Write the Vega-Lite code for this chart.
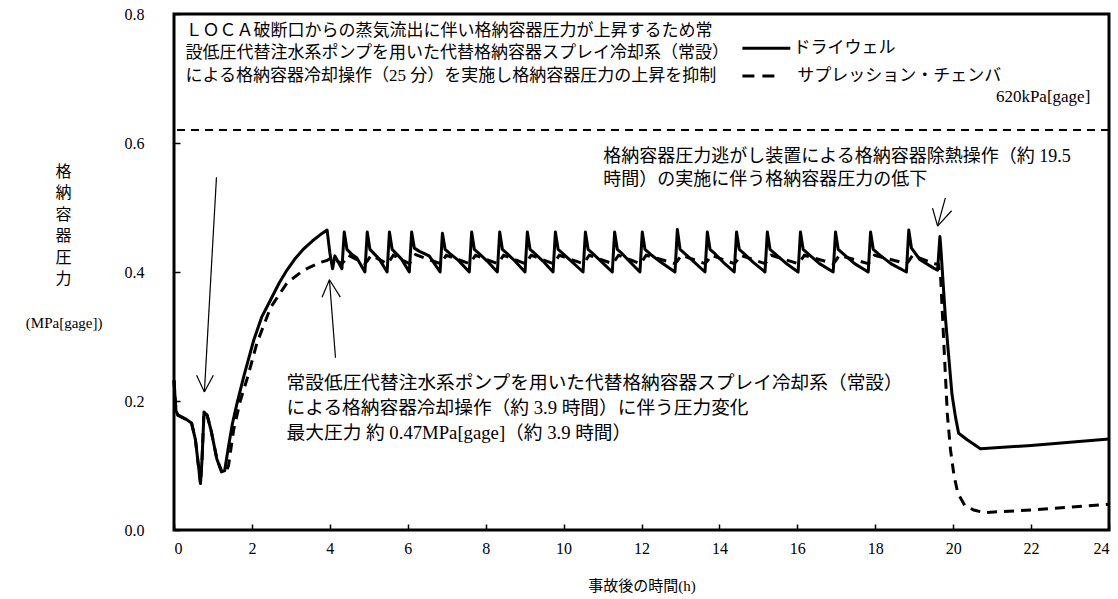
{
  "$schema": "https://vega.github.io/schema/vega-lite/v6.json",
  "width": 935,
  "height": 516,
  "autosize": {"type": "none"},
  "padding": {"left": 174, "top": 14, "right": 9, "bottom": 69},
  "background": "white",
  "config": {
    "view": {"stroke": "black", "strokeWidth": 3},
    "font": "Liberation Serif, Noto Sans CJK JP",
    "axis": {"domain": false, "grid": false, "tickColor": "black", "tickWidth": 1.5, "labelColor": "black", "titleColor": "black", "labelFont": "Liberation Serif", "labelFontSize": 16, "titleFont": "Liberation Serif, Noto Sans CJK JP", "titleFontWeight": "normal", "titleFontSize": 15}
  },
  "datasets": {
    "dw": [
      {"t":0,"p":0.232},{"t":0.05,"p":0.185},{"t":0.1,"p":0.178},{"t":0.3,"p":0.172},{"t":0.45,"p":0.166},{"t":0.55,"p":0.14},{"t":0.68,"p":0.072},{"t":0.72,"p":0.11},{"t":0.77,"p":0.183},{"t":0.85,"p":0.178},{"t":0.95,"p":0.155},{"t":1.1,"p":0.11},{"t":1.22,"p":0.09},{"t":1.3,"p":0.092},{"t":1.4,"p":0.13},{"t":1.5,"p":0.165},{"t":1.62,"p":0.197},{"t":1.8,"p":0.24},{"t":2.05,"p":0.295},{"t":2.25,"p":0.33},{"t":2.48,"p":0.357},{"t":2.7,"p":0.383},{"t":2.9,"p":0.403},{"t":3.1,"p":0.42},{"t":3.33,"p":0.436},{"t":3.55,"p":0.448},{"t":3.76,"p":0.458},{"t":3.93,"p":0.465},
      {"t":4.0,"p":0.43},{"t":4.07,"p":0.405},{"t":4.13,"p":0.425},{"t":4.22,"p":0.415},{"t":4.31,"p":0.405},{"t":4.37,"p":0.462},
      {"t":4.44,"p":0.435},{"t":4.57,"p":0.427},{"t":4.69,"p":0.422},{"t":4.9,"p":0.4},{"t":4.96,"p":0.462},
      {"t":5.03,"p":0.435},{"t":5.16,"p":0.427},{"t":5.27,"p":0.42},{"t":5.47,"p":0.4},{"t":5.53,"p":0.462},
      {"t":5.6,"p":0.435},{"t":5.73,"p":0.427},{"t":5.84,"p":0.42},{"t":6.04,"p":0.4},{"t":6.1,"p":0.462},
      {"t":6.17,"p":0.437},{"t":6.3,"p":0.432},{"t":6.55,"p":0.425},{"t":6.83,"p":0.4},{"t":6.89,"p":0.46},
      {"t":6.96,"p":0.435},{"t":7.09,"p":0.428},{"t":7.3,"p":0.418},{"t":7.58,"p":0.4},{"t":7.64,"p":0.462},
      {"t":7.71,"p":0.435},{"t":7.84,"p":0.428},{"t":8.04,"p":0.417},{"t":8.3,"p":0.4},{"t":8.36,"p":0.462},
      {"t":8.43,"p":0.435},{"t":8.56,"p":0.428},{"t":8.75,"p":0.417},{"t":9.01,"p":0.4},{"t":9.07,"p":0.462},
      {"t":9.14,"p":0.435},{"t":9.27,"p":0.428},{"t":9.47,"p":0.417},{"t":9.73,"p":0.4},{"t":9.79,"p":0.462},
      {"t":9.86,"p":0.435},{"t":9.99,"p":0.428},{"t":10.21,"p":0.416},{"t":10.5,"p":0.4},{"t":10.56,"p":0.462},
      {"t":10.63,"p":0.435},{"t":10.76,"p":0.428},{"t":10.97,"p":0.416},{"t":11.25,"p":0.4},{"t":11.31,"p":0.462},
      {"t":11.38,"p":0.435},{"t":11.51,"p":0.428},{"t":11.7,"p":0.416},{"t":11.96,"p":0.4},{"t":12.02,"p":0.462},
      {"t":12.09,"p":0.435},{"t":12.22,"p":0.428},{"t":12.5,"p":0.415},{"t":12.86,"p":0.4},{"t":12.92,"p":0.466},
      {"t":12.99,"p":0.435},{"t":13.12,"p":0.428},{"t":13.34,"p":0.416},{"t":13.63,"p":0.4},{"t":13.69,"p":0.462},
      {"t":13.76,"p":0.435},{"t":13.89,"p":0.428},{"t":14.1,"p":0.415},{"t":14.38,"p":0.4},{"t":14.44,"p":0.462},
      {"t":14.51,"p":0.435},{"t":14.64,"p":0.428},{"t":14.87,"p":0.415},{"t":15.17,"p":0.4},{"t":15.23,"p":0.462},
      {"t":15.3,"p":0.435},{"t":15.43,"p":0.428},{"t":15.7,"p":0.414},{"t":16.02,"p":0.4},{"t":16.08,"p":0.462},
      {"t":16.15,"p":0.435},{"t":16.28,"p":0.428},{"t":16.57,"p":0.413},{"t":16.92,"p":0.4},{"t":16.98,"p":0.462},
      {"t":17.05,"p":0.435},{"t":17.18,"p":0.428},{"t":17.47,"p":0.413},{"t":17.82,"p":0.4},{"t":17.88,"p":0.462},
      {"t":17.95,"p":0.435},{"t":18.08,"p":0.428},{"t":18.4,"p":0.413},{"t":18.8,"p":0.4},{"t":18.86,"p":0.465},
      {"t":18.93,"p":0.437},{"t":19.15,"p":0.419},{"t":19.5,"p":0.406},{"t":19.6,"p":0.403},{"t":19.66,"p":0.455},
      {"t":19.68,"p":0.44},{"t":19.8,"p":0.33},{"t":19.87,"p":0.28},{"t":19.97,"p":0.21},{"t":20.06,"p":0.175},{"t":20.14,"p":0.15},{"t":20.36,"p":0.14},{"t":20.7,"p":0.126},{"t":22,"p":0.131},{"t":24,"p":0.141}
    ],
    "sc": [
      {"t":0,"p":0.232},{"t":0.05,"p":0.185},{"t":0.1,"p":0.178},{"t":0.3,"p":0.172},{"t":0.45,"p":0.166},{"t":0.55,"p":0.14},{"t":0.68,"p":0.072},{"t":0.72,"p":0.11},{"t":0.77,"p":0.183},{"t":0.85,"p":0.178},{"t":0.95,"p":0.155},{"t":1.1,"p":0.11},{"t":1.22,"p":0.092},{"t":1.32,"p":0.088},{"t":1.4,"p":0.1},{"t":1.53,"p":0.155},{"t":1.7,"p":0.2},{"t":1.88,"p":0.235},{"t":2.13,"p":0.29},{"t":2.48,"p":0.345},{"t":2.9,"p":0.383},{"t":3.33,"p":0.403},{"t":3.76,"p":0.415},{"t":3.93,"p":0.418},
      {"t":4.03,"p":0.422},{"t":4.31,"p":0.413},{"t":4.37,"p":0.417},
      {"t":4.47,"p":0.426},{"t":4.9,"p":0.413},{"t":4.96,"p":0.417},
      {"t":5.06,"p":0.426},{"t":5.47,"p":0.413},{"t":5.53,"p":0.417},
      {"t":5.63,"p":0.426},{"t":6.04,"p":0.413},{"t":6.1,"p":0.417},
      {"t":6.2,"p":0.427},{"t":6.83,"p":0.413},{"t":6.89,"p":0.417},
      {"t":6.99,"p":0.426},{"t":7.58,"p":0.413},{"t":7.64,"p":0.417},
      {"t":7.74,"p":0.426},{"t":8.3,"p":0.413},{"t":8.36,"p":0.417},
      {"t":8.46,"p":0.426},{"t":9.01,"p":0.413},{"t":9.07,"p":0.417},
      {"t":9.17,"p":0.426},{"t":9.73,"p":0.413},{"t":9.79,"p":0.417},
      {"t":9.89,"p":0.426},{"t":10.5,"p":0.413},{"t":10.56,"p":0.417},
      {"t":10.66,"p":0.426},{"t":11.25,"p":0.413},{"t":11.31,"p":0.417},
      {"t":11.41,"p":0.426},{"t":11.96,"p":0.413},{"t":12.02,"p":0.417},
      {"t":12.12,"p":0.426},{"t":12.86,"p":0.413},{"t":12.92,"p":0.417},
      {"t":13.02,"p":0.426},{"t":13.63,"p":0.413},{"t":13.69,"p":0.417},
      {"t":13.79,"p":0.426},{"t":14.38,"p":0.413},{"t":14.44,"p":0.417},
      {"t":14.54,"p":0.426},{"t":15.17,"p":0.413},{"t":15.23,"p":0.417},
      {"t":15.33,"p":0.426},{"t":16.02,"p":0.413},{"t":16.08,"p":0.417},
      {"t":16.18,"p":0.426},{"t":16.92,"p":0.413},{"t":16.98,"p":0.417},
      {"t":17.08,"p":0.426},{"t":17.82,"p":0.413},{"t":17.88,"p":0.417},
      {"t":17.98,"p":0.426},{"t":18.8,"p":0.413},{"t":18.86,"p":0.417},
      {"t":18.96,"p":0.426},{"t":19.5,"p":0.413},{"t":19.62,"p":0.412},
      {"t":19.68,"p":0.39},{"t":19.76,"p":0.29},{"t":19.85,"p":0.18},{"t":19.93,"p":0.125},{"t":20.02,"p":0.085},{"t":20.12,"p":0.057},{"t":20.3,"p":0.038},{"t":20.53,"p":0.031},{"t":20.79,"p":0.027},{"t":22,"p":0.031},{"t":24,"p":0.04}
    ],
    "limit": [{"p": 0.62}],
    "arrows": [
      {"t":1.09,"v":0.547,"t2":0.78,"v2":0.214},
      {"t":0.58,"v":0.24,"t2":0.78,"v2":0.214},
      {"t":1.01,"v":0.24,"t2":0.78,"v2":0.214},
      {"t":4.145,"v":0.267,"t2":3.99,"v2":0.388},
      {"t":3.8,"v":0.361,"t2":3.99,"v2":0.388},
      {"t":4.27,"v":0.361,"t2":3.99,"v2":0.388},
      {"t":19.8,"v":0.515,"t2":19.6,"v2":0.471},
      {"t":19.47,"v":0.499,"t2":19.6,"v2":0.471},
      {"t":19.96,"v":0.495,"t2":19.6,"v2":0.471}
    ],
    "legSolid": [{"t":14.59,"t2":15.82,"v":0.747}],
    "legDash": [{"t":14.59,"t2":15.5,"v":0.704}],
    "boxText": [
      {"t":0.295,"v":0.774,"text":"ＬＯＣＡ破断口からの蒸気流出に伴い格納容器圧力が上昇するため常"},
      {"t":0.295,"v":0.739,"text":"設低圧代替注水系ポンプを用いた代替格納容器スプレイ冷却系（常設）"},
      {"t":0.295,"v":0.704,"text":"による格納容器冷却操作（25 分）を実施し格納容器圧力の上昇を抑制"},
      {"t":15.9,"v":0.747,"text":"ドライウェル"},
      {"t":16.0,"v":0.704,"text":"サプレッション・チェンバ"}
    ],
    "noteText": [
      {"t":11.02,"v":0.578,"text":"格納容器圧力逃がし装置による格納容器除熱操作（約 19.5"},
      {"t":11.02,"v":0.543,"text":"時間）の実施に伴う格納容器圧力の低下"}
    ],
    "noteText2": [
      {"t":2.89,"v":0.228,"text":"常設低圧代替注水系ポンプを用いた代替格納容器スプレイ冷却系（常設）"},
      {"t":2.89,"v":0.189,"text":"による格納容器冷却操作（約 3.9 時間）に伴う圧力変化"},
      {"t":2.89,"v":0.15,"text":"最大圧力 約 0.47MPa[gage]（約 3.9 時間）"}
    ],
    "limitText": [{"t":23.52,"v":0.672,"text":"620kPa[gage]"}],
    "unitText": [{"t":-2.82,"v":0.321,"text":"(MPa[gage])"}]
  },
  "layer": [
    {
      "data": {"name": "dw"},
      "mark": {"type": "line", "color": "black", "strokeWidth": 3, "strokeJoin": "round"},
      "encoding": {
        "x": {"field": "t", "type": "quantitative", "scale": {"domain": [0, 24], "nice": false},
          "axis": {"values": [0,2,4,6,8,10,12,14,16,18,20,22,24], "tickSize": -6, "labelPadding": 16, "labelFontSize": 16, "title": "事故後の時間(h)", "titlePadding": 22, "titleFontSize": 15}},
        "y": {"field": "p", "type": "quantitative", "scale": {"domain": [0, 0.8], "nice": false},
          "axis": {"values": [0, 0.2, 0.4, 0.6, 0.8], "format": ".1f", "tickSize": -6, "labelPadding": 36,
            "title": ["格", "納", "容", "器", "圧", "力"], "titleAngle": 0, "titleAlign": "center", "titleBaseline": "top", "titleX": -111, "titleY": 149, "titleLineHeight": 21.5, "titleFontSize": 16}}
      }
    },
    {
      "data": {"name": "sc"},
      "mark": {"type": "line", "color": "black", "strokeWidth": 3, "strokeDash": [10, 7]},
      "encoding": {"x": {"field": "t", "type": "quantitative"}, "y": {"field": "p", "type": "quantitative"}}
    },
    {
      "data": {"name": "limit"},
      "mark": {"type": "rule", "color": "black", "strokeWidth": 2, "strokeDash": [8, 6]},
      "encoding": {"y": {"field": "p", "type": "quantitative"}}
    },
    {
      "data": {"name": "arrows"},
      "mark": {"type": "rule", "color": "black", "strokeWidth": 1.2},
      "encoding": {"x": {"field": "t", "type": "quantitative"}, "y": {"field": "v", "type": "quantitative"}, "x2": {"field": "t2"}, "y2": {"field": "v2"}}
    },
    {
      "data": {"name": "legSolid"},
      "mark": {"type": "rule", "color": "black", "strokeWidth": 3},
      "encoding": {"x": {"field": "t", "type": "quantitative"}, "x2": {"field": "t2"}, "y": {"field": "v", "type": "quantitative"}}
    },
    {
      "data": {"name": "legDash"},
      "mark": {"type": "rule", "color": "black", "strokeWidth": 3, "strokeDash": [12, 8]},
      "encoding": {"x": {"field": "t", "type": "quantitative"}, "x2": {"field": "t2"}, "y": {"field": "v", "type": "quantitative"}}
    },
    {
      "data": {"name": "boxText"},
      "mark": {"type": "text", "align": "left", "baseline": "middle", "fontSize": 17, "color": "black", "font": "Liberation Serif, Noto Sans CJK JP"},
      "encoding": {"x": {"field": "t", "type": "quantitative"}, "y": {"field": "v", "type": "quantitative"}, "text": {"field": "text"}}
    },
    {
      "data": {"name": "noteText"},
      "mark": {"type": "text", "align": "left", "baseline": "middle", "fontSize": 18, "color": "black", "font": "Liberation Serif, Noto Sans CJK JP"},
      "encoding": {"x": {"field": "t", "type": "quantitative"}, "y": {"field": "v", "type": "quantitative"}, "text": {"field": "text"}}
    },
    {
      "data": {"name": "noteText2"},
      "mark": {"type": "text", "align": "left", "baseline": "middle", "fontSize": 18.7, "color": "black", "font": "Liberation Serif, Noto Sans CJK JP"},
      "encoding": {"x": {"field": "t", "type": "quantitative"}, "y": {"field": "v", "type": "quantitative"}, "text": {"field": "text"}}
    },
    {
      "data": {"name": "limitText"},
      "mark": {"type": "text", "align": "right", "baseline": "middle", "fontSize": 17, "color": "black", "font": "Liberation Serif"},
      "encoding": {"x": {"field": "t", "type": "quantitative"}, "y": {"field": "v", "type": "quantitative"}, "text": {"field": "text"}}
    },
    {
      "data": {"name": "unitText"},
      "mark": {"type": "text", "align": "center", "baseline": "middle", "fontSize": 15, "color": "black", "font": "Liberation Serif"},
      "encoding": {"x": {"field": "t", "type": "quantitative"}, "y": {"field": "v", "type": "quantitative"}, "text": {"field": "text"}}
    }
  ]
}
